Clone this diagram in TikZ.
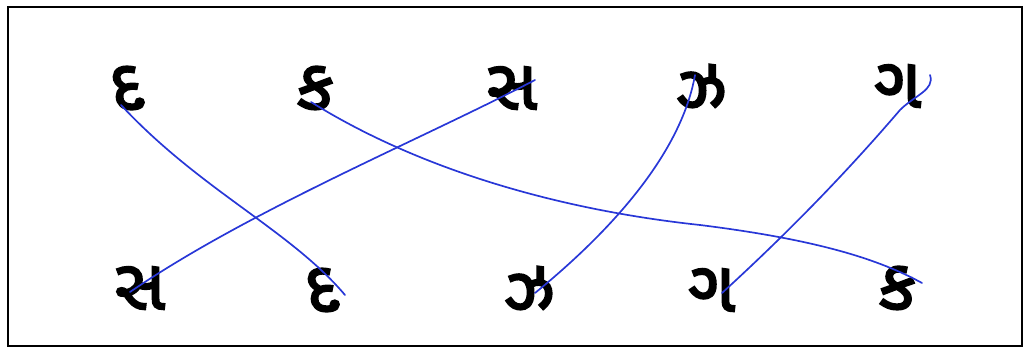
\documentclass[tikz,border=0pt]{standalone}
\usepackage{fontspec}
\newfontfamily\gujfont[Script=Gujarati, FakeBold=3]{Noto Sans Gujarati UI}
\usepackage{tikz}
\usetikzlibrary{positioning, calc}
\definecolor{penblue}{RGB}{40,55,215}

\begin{document}
\begin{tikzpicture}[x=0.025cm, y=-0.025cm,
    letter/.style={inner sep=0pt, font=\gujfont\fontsize{50pt}{50pt}\selectfont},
    pen/.style={penblue, line width=1.2pt, line cap=round}]
      \useasboundingbox (0,0) rectangle (1029,353);
      \draw[line width=1.2pt] (8,7) rectangle (1022,346);

      % Top row
      \node[letter] (t1) at (127,88) {દ};
      \node[letter] (t2) at (315,88) {ક};
      \node[letter] (t3) at (512,88) {સ};
      \node[letter] (t4) at (702,86) {ઝ};
      \node[letter] (t5) at (898,86) {ગ};

      % Bottom row
      \node[letter] (b1) at (140,288) {સ};
      \node[letter] (b2) at (322,290) {દ};
      \node[letter] (b3) at (530,288) {ઝ};
      \node[letter] (b4) at (712,290) {ગ};
      \node[letter] (b5) at (897,288) {ક};

      % Matching lines
      \draw[pen] ([shift={(-6,17)}]t1.center) .. controls (200,190) and (290,230) .. ([shift={(23,5)}]b2.center);
      \draw[pen] ([shift={(-4,14)}]t2.center) .. controls (420,170) and (560,210) .. (700,225)
                 .. controls (820,240) and (880,260) .. ([shift={(25,-5)}]b5.center);
      \draw[pen] ([shift={(23,-8)}]t3.center) .. controls (420,140) and (250,210) .. ([shift={(-10,4)}]b1.center);
      \draw[pen] ([shift={(-7,-11)}]t4.center) .. controls (680,160) and (600,240) .. ([shift={(5,5)}]b3.center);
      \draw[pen] ([shift={(32,-11)}]t5.center) .. controls (935,90) and (915,95) .. (900,110)
                 .. controls (840,180) and (780,240) .. ([shift={(10,3)}]b4.center);
    \end{tikzpicture}
\end{document}
